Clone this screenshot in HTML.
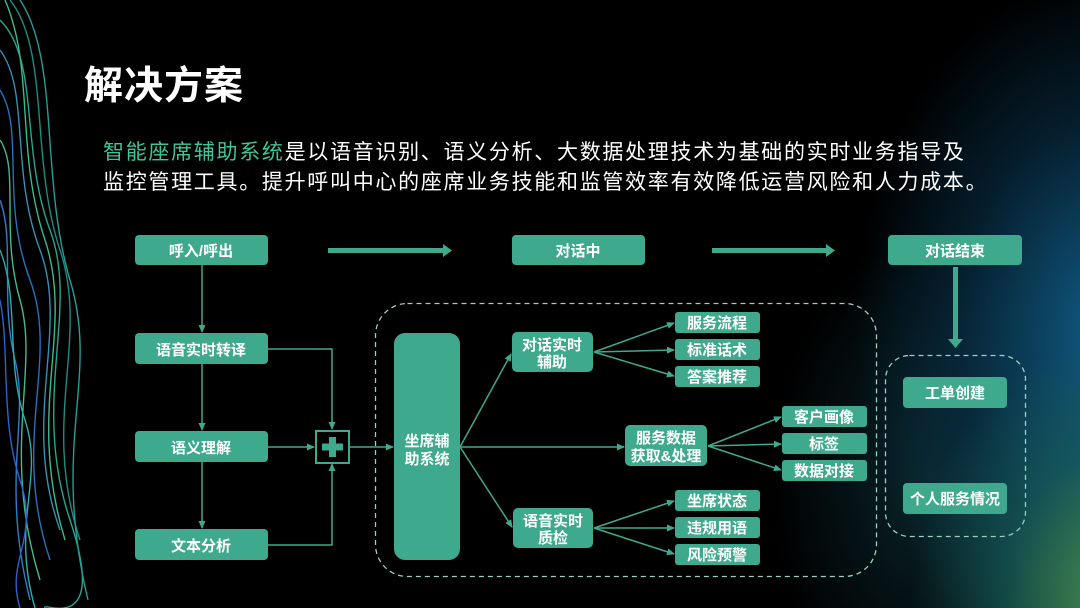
<!DOCTYPE html>
<html><head><meta charset="utf-8"><style>
html,body{margin:0;padding:0}
body{width:1080px;height:608px;overflow:hidden;background:#000;position:relative;font-family:"Liberation Sans","Noto Sans CJK SC",sans-serif}
.bg{position:absolute;inset:0;background:
radial-gradient(ellipse 260px 330px at 1120px 600px,rgba(90,170,90,.85),rgba(30,120,110,.5) 45%,transparent 80%),
radial-gradient(ellipse 300px 420px at 1110px 330px,rgba(20,110,160,.85),rgba(10,60,90,.5) 50%,transparent 85%),
radial-gradient(ellipse 200px 300px at 930px 480px,rgba(15,60,70,.6),transparent 80%);}
.left{position:absolute;left:0;top:0;width:90px;height:608px;}
svg{position:absolute;left:0;top:0}
.t{font-weight:bold;fill:#fff;font-size:15px;text-anchor:middle;font-family:"Liberation Sans","Noto Sans CJK SC",sans-serif}
h1{position:absolute;left:84px;top:55px;margin:0;color:#fff;font-size:39px;font-weight:bold;letter-spacing:1px}
p{position:absolute;left:103px;top:138px;margin:0;color:#fff;font-size:21px;line-height:30px;white-space:nowrap;letter-spacing:1.7px}
p span{color:#3fc59a}
</style></head><body>
<div class="bg"></div>
<svg class="left" width="90" height="608" viewBox="0 0 90 608">
<g fill="none" stroke-width="1.4" opacity=".9">
<path d="M0 20 C40 60 20 150 50 230 S30 400 70 520 S40 600 45 608" stroke="#2fb7a0"/>
<path d="M0 50 C30 90 10 170 40 250 S20 420 60 530" stroke="#3ba0c8"/>
<path d="M0 90 C25 130 0 200 30 280 S10 440 50 560" stroke="#2c7fd0"/>
<path d="M0 140 C20 170 0 230 20 300 S0 450 40 580" stroke="#4ad09a"/>
<path d="M10 0 C50 50 30 160 60 250 S40 420 80 540" stroke="#1f9e90"/>
<path d="M0 200 C15 240 0 300 15 360 S0 480 30 600" stroke="#3a8ae0"/>
<path d="M20 0 C60 60 40 180 70 280 S50 440 88 600" stroke="#28b0a8"/>
<path d="M0 250 C20 300 5 360 25 420 S10 520 35 608" stroke="#2fc0c0"/>
<path d="M5 0 C35 70 15 150 45 240 S25 410 65 540" stroke="#40d0a0"/>
<path d="M0 300 C10 350 0 420 20 480 S5 560 20 608" stroke="#3070e0"/>
</g></svg>
<h1>解决方案</h1>
<p><span>智能座席辅助系统</span>是以语音识别、语义分析、大数据处理技术为基础的实时业务指导及<br>监控管理工具。提升呼叫中心的座席业务技能和监管效率有效降低运营风险和人力成本。</p>
<svg width="1080" height="608" viewBox="0 0 1080 608">
<defs><marker id="a" markerWidth="8" markerHeight="8" refX="7" refY="4" orient="auto" markerUnits="userSpaceOnUse"><path d="M0 0.5L8 4L0 7.5z" fill="#3fa98d"/></marker></defs>
<g fill="none" stroke="#9fcfc2" stroke-width="1.3" stroke-dasharray="5 4">
<rect x="375.5" y="303.5" width="501" height="273" rx="32"/>
<rect x="885.5" y="355.5" width="140" height="181" rx="24"/>
</g>
<g stroke="#3fa98d" stroke-width="1.5" fill="none">
<line x1="202" y1="265" x2="202" y2="332" marker-end="url(#a)"/>
<line x1="202" y1="364" x2="202" y2="430" marker-end="url(#a)"/>
<line x1="202" y1="462" x2="202" y2="528" marker-end="url(#a)"/>
<polyline points="268,349 332,349 332,429" marker-end="url(#a)"/>
<polyline points="268,545 332,545 332,464" marker-end="url(#a)"/>
<line x1="268" y1="447" x2="314" y2="447" marker-end="url(#a)"/>
<line x1="350" y1="447" x2="393" y2="447" marker-end="url(#a)"/>
<line x1="460" y1="447" x2="511" y2="354" marker-end="url(#a)"/>
<line x1="460" y1="447" x2="512" y2="527" marker-end="url(#a)"/>
<line x1="460" y1="447" x2="624" y2="447" marker-end="url(#a)"/>
<line x1="594" y1="352" x2="674" y2="323" marker-end="url(#a)"/>
<line x1="594" y1="352" x2="674" y2="350" marker-end="url(#a)"/>
<line x1="594" y1="352" x2="674" y2="376" marker-end="url(#a)"/>
<line x1="594" y1="528" x2="674" y2="501" marker-end="url(#a)"/>
<line x1="594" y1="528" x2="674" y2="528" marker-end="url(#a)"/>
<line x1="594" y1="528" x2="674" y2="554" marker-end="url(#a)"/>
<line x1="708" y1="446" x2="781" y2="417" marker-end="url(#a)"/>
<line x1="708" y1="446" x2="781" y2="444" marker-end="url(#a)"/>
<line x1="708" y1="446" x2="781" y2="470" marker-end="url(#a)"/>
</g>
<g fill="#3fa98d">
<rect x="328" y="248" width="116" height="5"/><path d="M443 244L452 250.5L443 257z"/>
<rect x="712" y="248" width="115" height="5"/><path d="M826 244L835 250.5L826 257z"/>
<rect x="953" y="267" width="5" height="73"/><path d="M948 339L963 339L955.5 348z"/>
<rect x="135" y="235" width="133" height="30" rx="4"/>
<rect x="135" y="333" width="133" height="31" rx="4"/>
<rect x="135" y="431" width="133" height="31" rx="4"/>
<rect x="135" y="529" width="133" height="31" rx="4"/>
<rect x="512" y="235" width="133" height="30" rx="4"/>
<rect x="888" y="235" width="134" height="30" rx="4"/>
<rect x="394" y="333" width="66" height="227" rx="11"/>
<rect x="512" y="332" width="81" height="40" rx="5"/>
<rect x="625" y="425" width="82" height="41" rx="5"/>
<rect x="513" y="508" width="80" height="40" rx="5"/>
<rect x="675" y="312" width="85" height="21" rx="3"/>
<rect x="675" y="339" width="85" height="21" rx="3"/>
<rect x="675" y="366" width="85" height="21" rx="3"/>
<rect x="782" y="406" width="85" height="21" rx="3"/>
<rect x="782" y="433" width="85" height="21" rx="3"/>
<rect x="782" y="460" width="85" height="21" rx="3"/>
<rect x="675" y="490" width="85" height="21" rx="3"/>
<rect x="675" y="517" width="85" height="21" rx="3"/>
<rect x="675" y="544" width="85" height="21" rx="3"/>
<rect x="903" y="377" width="104" height="31" rx="4"/>
<rect x="903" y="483" width="104" height="31" rx="4"/>
</g>
<rect x="316" y="431" width="33" height="32" fill="#000" stroke="#3fa98d" stroke-width="2"/>
<rect x="329" y="437" width="7" height="20" fill="#3fa98d"/><rect x="322" y="443.5" width="21" height="7" fill="#3fa98d"/>
<g class="t">
<text x="201" y="256" class="t">呼入/呼出</text>
<text x="201" y="355" class="t">语音实时转译</text>
<text x="201" y="453" class="t">语义理解</text>
<text x="201" y="551" class="t">文本分析</text>
<text x="578" y="256" class="t">对话中</text>
<text x="955" y="256" class="t">对话结束</text>
<text x="427" y="446" class="t">坐席辅</text>
<text x="427" y="464" class="t">助系统</text>
<text x="552" y="350" class="t">对话实时</text>
<text x="552" y="367" class="t">辅助</text>
<text x="666" y="443" class="t">服务数据</text>
<text x="666" y="461" class="t">获取&amp;处理</text>
<text x="553" y="526" class="t">语音实时</text>
<text x="553" y="543" class="t">质检</text>
<text x="717" y="328" class="t">服务流程</text>
<text x="717" y="355" class="t">标准话术</text>
<text x="717" y="382" class="t">答案推荐</text>
<text x="824" y="422" class="t">客户画像</text>
<text x="824" y="449" class="t">标签</text>
<text x="824" y="476" class="t">数据对接</text>
<text x="717" y="506" class="t">坐席状态</text>
<text x="717" y="533" class="t">违规用语</text>
<text x="717" y="560" class="t">风险预警</text>
<text x="955" y="398" class="t">工单创建</text>
<text x="955" y="504" class="t">个人服务情况</text>
</g>
</svg>
</body></html>
